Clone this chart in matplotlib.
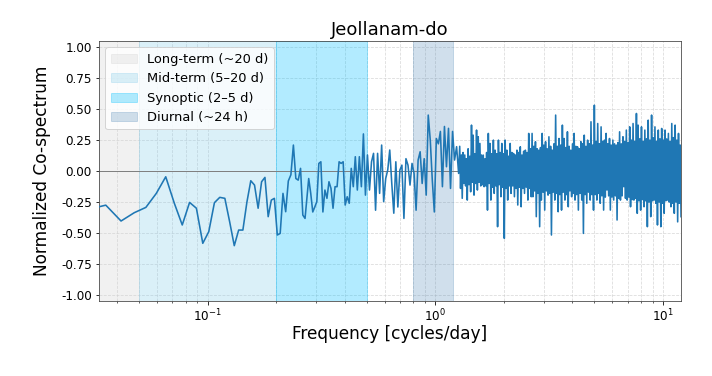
import numpy as np
import matplotlib
matplotlib.use("Agg")
import matplotlib.pyplot as plt
from matplotlib.ticker import FormatStrFormatter, LogLocator

# ---------------- data ----------------
df = 1.0 / 168.0  # frequency resolution [cycles/day]
k_low = np.arange(5, 46)
cospec_low = [-0.31, -0.275, -0.403, -0.336, -0.293, -0.18, -0.046, -0.26, -0.435, -0.253,
              -0.30, -0.583, -0.489, -0.255, -0.212, -0.22, -0.41, -0.602, -0.476, -0.476,
              -0.25, -0.078, -0.113, -0.30, -0.086, -0.051, -0.368, -0.234, -0.22, -0.516,
              -0.503, -0.18, -0.328, -0.08, -0.03, 0.21, -0.06, -0.073, 0.022, -0.355, -0.382]

mid_range = (0.278, 1.266)
cospec_mid = [-0.06, -0.18, -0.33, -0.29, -0.247, 0.062, 0.075, -0.33, -0.153, -0.22,
              -0.086, -0.14, -0.30, -0.126, -0.126, 0.075, 0.062, 0.075, -0.274, -0.207,
              -0.26, 0.022, -0.126, 0.116, -0.153, 0.116, -0.126, 0.30, -0.194,
              0.13, -0.153, 0.075, 0.143, -0.316, 0.143, -0.18, 0.21, -0.247, -0.06,
              0.008, 0.17, -0.1, -0.34, 0.075, -0.29, 0.008, 0.048, -0.382, 0.10,
              0.048, -0.113, 0.062, -0.019, -0.316, 0.089, 0.156, -0.1, 0.10, -0.194,
              0.452, 0.25, -0.073, -0.33, 0.263, 0.22, 0.32, -0.126, 0.36, 0.035,
              0.345, -0.14, 0.32, 0.089, 0.197, -0.019]

hi_range = (1.28, 12.0)
hi_peaks = [0.20, 0.13, 0.15, 0.13, 0.10, 0.18, 0.12, 0.371, 0.29, 0.14,
            0.331, 0.277, 0.223, 0.13, 0.129, 0.10, 0.15, 0.304, 0.223, 0.14,
            0.25, 0.169, 0.14, 0.25, 0.15, 0.223, 0.14, 0.25, 0.169, 0.12,
            0.223, 0.15, 0.142, 0.13, 0.169, 0.15, 0.196, 0.13, 0.16, 0.169,
            0.15, 0.304, 0.18,
            0.304, 0.20, 0.237, 0.18, 0.169, 0.19, 0.304, 0.21, 0.237, 0.18,
            0.277, 0.20, 0.169, 0.22, 0.452, 0.20, 0.263, 0.21, 0.371, 0.263,
            0.19, 0.317, 0.20, 0.169, 0.22, 0.304, 0.20, 0.196, 0.18, 0.237,
            0.22, 0.29, 0.20, 0.25, 0.22, 0.398, 0.21, 0.532, 0.24, 0.384,
            0.22, 0.357, 0.24, 0.25,
            0.304, 0.22, 0.263, 0.21, 0.25, 0.22, 0.21, 0.23, 0.317, 0.22,
            0.277, 0.24, 0.331, 0.23, 0.357, 0.25, 0.384, 0.24, 0.465, 0.371,
            0.26, 0.357, 0.24, 0.331, 0.26, 0.411, 0.25, 0.452, 0.27, 0.357,
            0.24, 0.331, 0.26, 0.344, 0.25, 0.331, 0.26, 0.304, 0.24, 0.384,
            0.27, 0.371, 0.25, 0.304, 0.21]
hi_troughs = [-0.14, -0.22, -0.10, -0.12, -0.234, -0.11, -0.167, -0.09, -0.194, -0.10,
              -0.153, -0.09, -0.12, -0.11, -0.126, -0.12, -0.315, -0.10, -0.234, -0.13,
              -0.18, -0.12, -0.449, -0.11, -0.207, -0.13, -0.543, -0.14, -0.234, -0.12,
              -0.18, -0.12, -0.207, -0.14, -0.274, -0.13, -0.288, -0.14, -0.18, -0.13,
              -0.234, -0.14, -0.207,
              -0.207, -0.16, -0.368, -0.18, -0.449, -0.234, -0.17, -0.315, -0.16, -0.194,
              -0.18, -0.516, -0.17, -0.234, -0.18, -0.328, -0.19, -0.315, -0.17, -0.234,
              -0.19, -0.288, -0.16, -0.207, -0.18, -0.234, -0.19, -0.315, -0.18, -0.234,
              -0.503, -0.19, -0.26, -0.17, -0.234, -0.19, -0.315, -0.19, -0.234, -0.18,
              -0.26, -0.20, -0.315, -0.21,
              -0.153, -0.20, -0.315, -0.21, -0.234, -0.20, -0.395, -0.22, -0.234, -0.20,
              -0.126, -0.22, -0.234, -0.21, -0.288, -0.23, -0.234, -0.22, -0.341, -0.24,
              -0.315, -0.23, -0.288, -0.24, -0.449, -0.25, -0.368, -0.24, -0.234, -0.26,
              -0.435, -0.25, -0.449, -0.26, -0.341, -0.24, -0.234, -0.25, -0.288, -0.26,
              -0.341, -0.25, -0.41, -0.26, -0.368]

bands = [("Long-term (~20 d)", 1 / 30, 0.05, "lightgray", 0.3),
         ("Mid-term (5–20 d)", 0.05, 0.2, "skyblue", 0.3),
         ("Synoptic (2–5 d)", 0.2, 0.5, "deepskyblue", 0.3),
         ("Diurnal (~24 h)", 0.8, 1.2, "steelblue", 0.25)]

# ---------------- assemble series ----------------
f_low = k_low * df
f_mid = np.geomspace(mid_range[0], mid_range[1], len(cospec_mid))
f_hi = np.geomspace(hi_range[0], hi_range[1], 2 * len(hi_peaks))
c_hi = np.column_stack([hi_peaks, hi_troughs]).ravel()

freq = np.concatenate([f_low, f_mid, f_hi])
cospec = np.concatenate([cospec_low, cospec_mid, c_hi])

# ---------------- plot ----------------
DPI = 72
fig = plt.figure(figsize=(712 / DPI, 376 / DPI), dpi=DPI)
ax = fig.add_axes([0.139, 0.199, 0.8175, 0.692])

for label, lo, hi, col, a in bands:
    ax.axvspan(lo, hi, color=col, alpha=a, label=label)

ax.axhline(0, color="gray", lw=1.0, zorder=1)
ax.plot(freq, cospec, color="#1f77b4", lw=1.6, zorder=3)

ax.set_xscale("log")
ax.set_xlim(1 / 30, 12)
ax.set_ylim(-1.05, 1.05)
ax.set_yticks(np.arange(-1.0, 1.01, 0.25))
ax.yaxis.set_major_formatter(FormatStrFormatter("%.2f"))
ax.xaxis.set_minor_locator(LogLocator(base=10, subs=np.arange(2, 10)))

ax.grid(True, which="both", ls="--", lw=0.8, color="#cccccc", alpha=0.7)
ax.set_axisbelow(True)
for s in ax.spines.values():
    s.set_color("#444444")

ax.set_title("Jeollanam-do", fontsize=18)
ax.set_xlabel("Frequency [cycles/day]", fontsize=17, labelpad=0)
ax.set_ylabel("Normalized Co-spectrum", fontsize=17, labelpad=10)
ax.tick_params(labelsize=12)

ax.legend(loc="upper left", fontsize=13, framealpha=0.8)

fig.savefig("out.png", dpi=DPI)
